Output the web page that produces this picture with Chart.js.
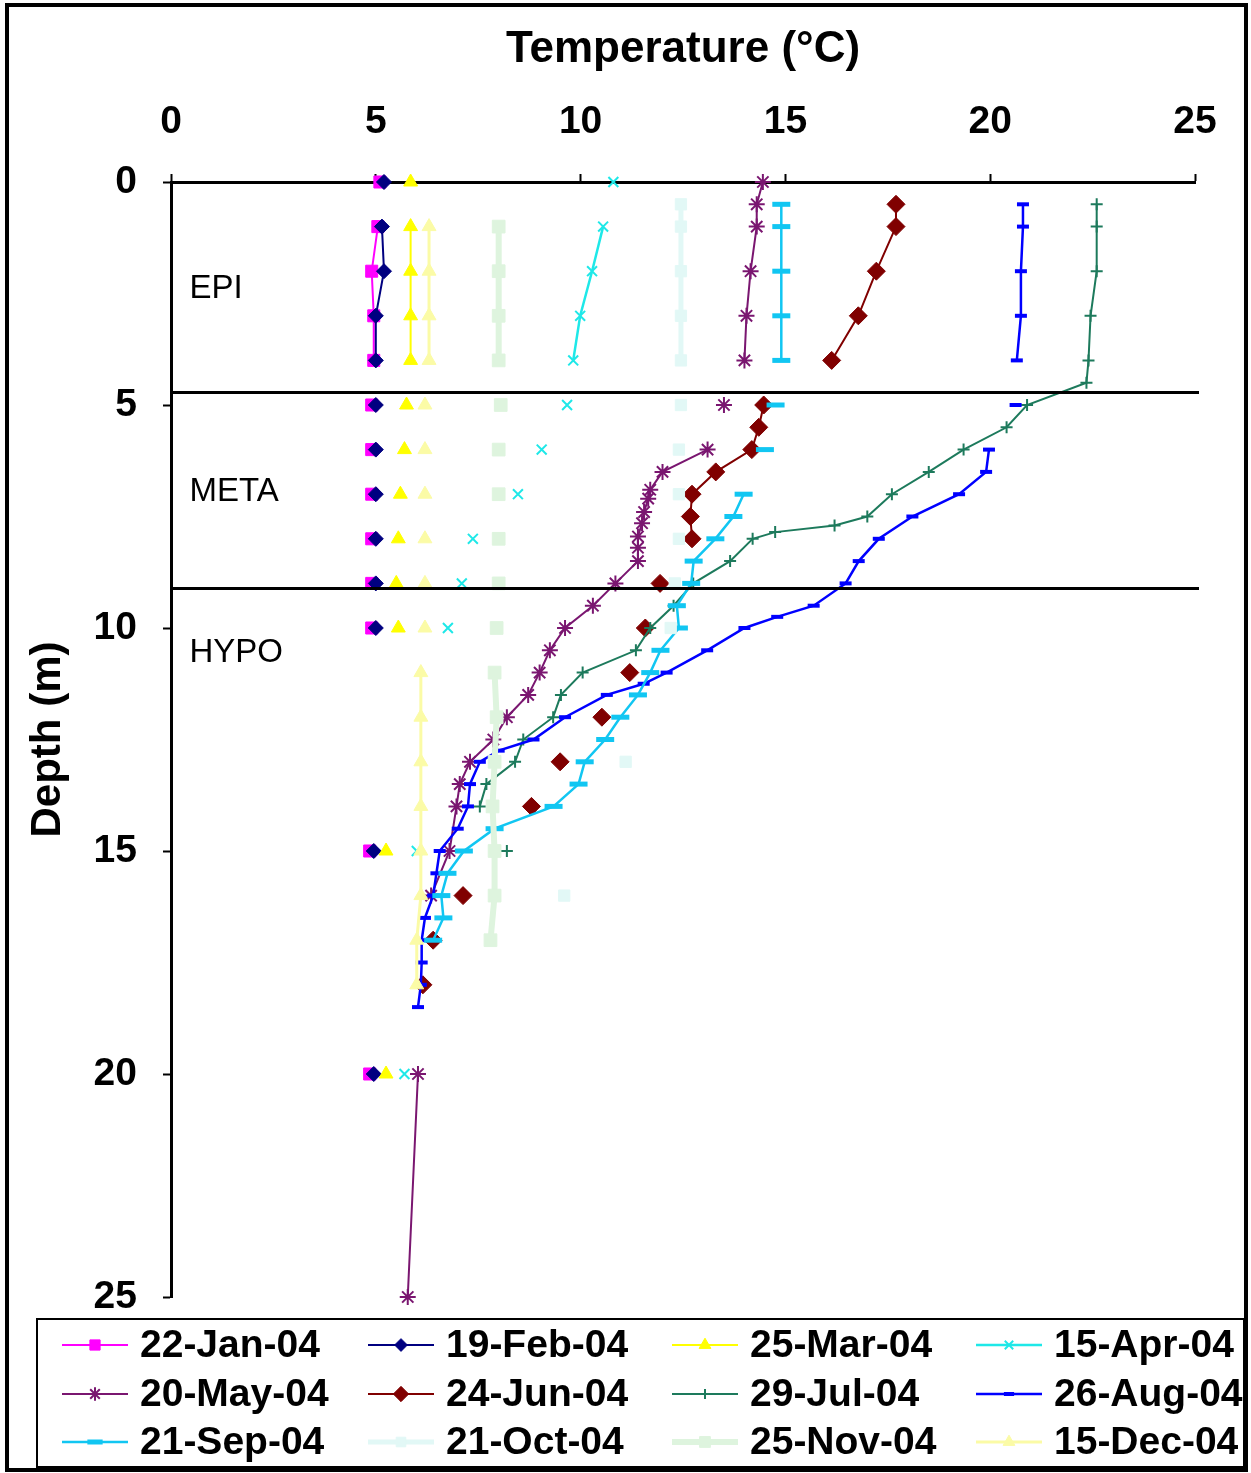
<!DOCTYPE html>
<html>
<head>
<meta charset="utf-8">
<script src="https://cdn.jsdelivr.net/npm/chart.js@4.4.1/dist/chart.umd.min.js"></script>
<style>
  html, body { margin: 0; padding: 0; background: #fff; }
  canvas { display: block; }
</style>
</head>
<body>
<canvas id="profile" width="1251" height="1473"></canvas>
<script>
// Sampling dates (one temperature profile each)
const seriesLabels = ['22-Jan-04', '19-Feb-04', '25-Mar-04', '15-Apr-04',
                      '20-May-04', '24-Jun-04', '29-Jul-04', '26-Aug-04',
                      '21-Sep-04', '21-Oct-04', '25-Nov-04', '15-Dec-04'];

// Depth (m) rows for the winter / spring profiles; null temperature = no reading
const winterDepth = [0, 0.5, 1, 2, 3, 4, 4.5, 5, 5.5, 6, 6.5, 7, 7.5, 8, 8.5, 9, 9.5, 10, 12, 15, 17, 20];
const janTemp = [5.1, null, 5.05, 4.9, 4.95, 4.95, null, 4.9, null, 4.9, null, 4.9, null, 4.9, null, 4.9, null, 4.9, null, 4.85, null, 4.85];
const febTemp = [5.2, null, 5.15, 5.2, 5.0, 5.0, null, 5.0, null, 5.0, null, 5.0, null, 5.0, null, 5.0, null, 5.0, null, 4.95, null, 4.95];
const marTemp = [5.85, null, 5.85, 5.85, 5.85, 5.85, null, 5.75, null, 5.7, null, 5.6, null, 5.55, null, 5.5, null, 5.55, null, 5.25, null, 5.25];
const aprTemp = [10.8, null, 10.55, 10.28, 9.99, 9.82, null, 9.67, null, 9.05, null, 8.47, null, 7.37, null, 7.1, null, 6.76, null, 6.0, null, 5.7];

const mayDepth = [0, 0.5, 1, 2, 3, 4, 4.5, 5, 5.5, 6, 6.5, 6.9, 7.1, 7.4, 7.65, 7.95, 8.2, 8.5, 9, 9.5, 10, 10.5, 11, 11.5, 12, 12.5, 13, 13.5, 14, 15, 16, 18, 20, 25];
const mayTemp = [14.45, 14.3, 14.3, 14.15, 14.05, 14.0, null, 13.5, null, 13.1, 12.0, 11.7, 11.65, 11.55, 11.5, 11.4, 11.4, 11.4, 10.85, 10.3, 9.62, 9.25, 9.0, 8.72, 8.2, 7.87, 7.3, 7.05, 6.97, 6.8, 6.35, null, 6.03, 5.78];

const junDepth = [0.5, 1, 2, 3, 4, 4.5, 5, 5.5, 6, 6.5, 7, 7.5, 8, 8.5, 9, 9.5, 10, 10.5, 11, 11.5, 12, 12.5, 13, 13.5, 14, 15, 16, 16.5, 17, 17.5, 18];
const junTemp = [17.7, 17.7, 17.22, 16.78, 16.13, null, 14.47, 14.35, 14.18, 13.3, 12.72, 12.68, 12.72, null, 11.94, null, 11.58, null, 11.2, null, 10.52, null, 9.5, null, 8.8, null, 7.13, null, 6.4, null, 6.15];

const julDepth = [0.5, 1, 2, 3, 4, 4.5, 5, 5.5, 6, 6.5, 7, 7.5, 7.7, 7.85, 8, 8.5, 9, 9.5, 10, 10.5, 11, 11.5, 12, 12.5, 13, 13.5, 14, 14.5, 15];
const julTemp = [22.6, 22.6, 22.6, 22.45, 22.4, 22.35, 20.9, 20.4, 19.35, 18.5, 17.6, 17.0, 16.2, 14.75, 14.2, 13.65, 12.75, 12.27, 11.7, 11.35, 10.05, 9.52, 9.33, 8.6, 8.4, 7.7, 7.54, null, 8.2];

const augDepth = [0.5, 1, 2, 3, 4, 4.5, 5, 5.5, 6, 6.5, 7, 7.5, 8, 8.5, 9, 9.5, 9.75, 10, 10.5, 11, 11.25, 11.5, 12, 12.5, 12.75, 13, 13.5, 14, 14.5, 15, 15.5, 16, 16.5, 17, 17.5, 18, 18.5];
const augTemp = [20.8, 20.8, 20.75, 20.75, 20.65, null, 20.62, null, 19.97, 19.9, 19.24, 18.1, 17.28, 16.79, 16.47, 15.69, 14.8, 14.0, 13.09, 12.1, 11.54, 10.64, 9.62, 8.85, 8.0, 7.54, 7.3, 7.25, 7.0, 6.56, 6.48, 6.4, 6.2, 6.12, 6.12, 6.1, 6.03];

const sepDepth = [0.5, 1, 2, 3, 4, 4.5, 5, 5.5, 6, 6.5, 7, 7.5, 8, 8.5, 9, 9.5, 10, 10.5, 11, 11.5, 12, 12.5, 13, 13.5, 14, 14.5, 15, 15.5, 16, 16.5, 17];
const sepTemp = [14.9, 14.9, 14.9, 14.9, 14.9, null, 14.76, null, 14.5, null, 13.98, 13.73, 13.29, 12.76, 12.7, 12.35, 12.4, 11.95, 11.7, 11.4, 10.97, 10.6, 10.1, 9.95, 9.34, 7.9, 7.15, 6.75, 6.6, 6.65, 6.4];

const octDepth = [0.5, 1, 2, 3, 4, 4.5, 5, 5.5, 6, 6.5, 7, 7.5, 8, 8.5, 9, 9.5, 10, 11.5, 13, 14.5, 16];
const octTemp = [12.45, 12.45, 12.45, 12.45, 12.45, null, 12.45, null, 12.4, null, 12.4, null, 12.4, null, 12.3, null, 12.2, null, 11.1, null, 9.6];

const novDepth = [1, 2, 3, 4, 4.5, 5, 5.5, 6, 6.5, 7, 7.5, 8, 8.5, 9, 9.5, 10, 10.5, 11, 12, 13, 14, 15, 16, 17];
const novTemp = [8.0, 8.0, 8.0, 8.0, null, 8.05, null, 8.0, null, 8.0, null, 8.0, null, 8.0, null, 7.95, null, 7.9, 7.95, 7.9, 7.85, 7.9, 7.9, 7.8];

const decDepth = [1, 2, 3, 4, 4.5, 5, 5.5, 6, 6.5, 7, 7.5, 8, 8.5, 9, 9.5, 10, 10.5, 11, 12, 13, 14, 15, 16, 17, 18];
const decTemp = [6.3, 6.3, 6.3, 6.3, null, 6.2, null, 6.2, null, 6.2, null, 6.2, null, 6.2, null, 6.2, null, 6.1, 6.1, 6.1, 6.1, 6.1, 6.1, 6.0, 6.0];

// Thermal layer boundaries (m) and their names
const layerBounds = [4.7, 9.1];
const layerNames = ['EPI', 'META', 'HYPO'];
const layerLabelDepth = [2.4, 6.95, 10.55];

// Axis tick values
const tempTicks = [0, 5, 10, 15, 20, 25];
const depthTicks = [0, 5, 10, 15, 20, 25];

const profiles = [
  [winterDepth, janTemp], [winterDepth, febTemp], [winterDepth, marTemp], [winterDepth, aprTemp],
  [mayDepth, mayTemp], [junDepth, junTemp], [julDepth, julTemp], [augDepth, augTemp],
  [sepDepth, sepTemp], [octDepth, octTemp], [novDepth, novTemp], [decDepth, decTemp]
];

const styles = [
  { color: '#ff00ff', point: 'rect',     radius: 8.5, pbw: 1, lw: 2 },
  { color: '#000080', point: 'rectRot',  radius: 7.5, pbw: 1, lw: 2 },
  { color: '#ffff00', point: 'triangle', radius: 8,   pbw: 1, lw: 2 },
  { color: '#1ee8e8', point: 'crossRot', radius: 7,   pbw: 2, lw: 2.5 },
  { color: '#7a1670', point: 'star',     radius: 8,   pbw: 2, lw: 2 },
  { color: '#800000', point: 'rectRot',  radius: 9,   pbw: 1, lw: 2 },
  { color: '#1d7a5c', point: 'cross',    radius: 6,   pbw: 2, lw: 2 },
  { color: '#0000ff', point: 'line',     radius: 6,   pbw: 4, lw: 2.5 },
  { color: '#11c6f2', point: 'line',     radius: 9,   pbw: 5, lw: 2.5 },
  { color: '#e2f8f6', point: 'rect',     radius: 8,   pbw: 1, lw: 5 },
  { color: '#def4de', point: 'rect',     radius: 9,   pbw: 1, lw: 6 },
  { color: '#fbfba6', point: 'triangle', radius: 8,   pbw: 1, lw: 3 }
];

const datasets = profiles.map(([depth, temp], i) => ({
  label: seriesLabels[i],
  data: depth.map((d, k) => ({ x: temp[k], y: d })),
  borderColor: styles[i].color,
  backgroundColor: styles[i].color,
  pointBorderColor: styles[i].color,
  pointBackgroundColor: styles[i].color,
  pointStyle: styles[i].point,
  pointRadius: styles[i].radius,
  pointBorderWidth: styles[i].pbw,
  borderWidth: styles[i].lw,
  spanGaps: false,
  clip: false,
  order: profiles.length - i
}));

const FONT = "'Liberation Sans', Arial, sans-serif";

// Page background and outer frame
const framePlugin = {
  id: 'frame',
  beforeDraw(chart) {
    const ctx = chart.ctx;
    ctx.save();
    ctx.fillStyle = '#ffffff';
    ctx.fillRect(0, 0, chart.width, chart.height);
    ctx.strokeStyle = '#000';
    ctx.lineWidth = 4;
    ctx.strokeRect(7, 5, chart.width - 12, chart.height - 8);
    ctx.restore();
  }
};

// Layer boundary lines and layer names
const layerPlugin = {
  id: 'layers',
  afterDatasetsDraw(chart) {
    const { ctx, chartArea, scales } = chart;
    ctx.save();
    ctx.strokeStyle = '#000';
    ctx.lineWidth = 3;
    layerBounds.forEach(b => {
      const y = Math.round(scales.y.getPixelForValue(b)) + 0.5;
      ctx.beginPath();
      ctx.moveTo(chartArea.left, y);
      ctx.lineTo(chartArea.right + 4, y);
      ctx.stroke();
    });
    ctx.fillStyle = '#000';
    ctx.font = '33px ' + FONT;
    ctx.textAlign = 'left';
    ctx.textBaseline = 'middle';
    layerNames.forEach((name, i) => {
      ctx.fillText(name, scales.x.getPixelForValue(0.45), scales.y.getPixelForValue(layerLabelDepth[i]));
    });
    ctx.restore();
  }
};

// Four-column legend in a box under the plot
const legendPlugin = {
  id: 'boxLegend',
  afterDraw(chart) {
    const ctx = chart.ctx;
    const colX = [62, 368, 672, 976];
    const rowY = [1345, 1394, 1442];
    ctx.save();
    ctx.strokeStyle = '#000';
    ctx.lineWidth = 2;
    ctx.strokeRect(37, 1319, 1207, 148);
    chart.data.datasets.forEach((ds, i) => {
      const x0 = colX[i % 4];
      const y = rowY[Math.floor(i / 4)];
      ctx.strokeStyle = ds.borderColor;
      ctx.fillStyle = ds.backgroundColor;
      ctx.lineWidth = ds.borderWidth;
      ctx.beginPath();
      ctx.moveTo(x0, y);
      ctx.lineTo(x0 + 66, y);
      ctx.stroke();
      ctx.lineWidth = ds.pointBorderWidth;
      const opts = { pointStyle: ds.pointStyle, radius: ds.pointRadius * 0.85, borderWidth: ds.pointBorderWidth, rotation: 0 };
      if (Chart.helpers && Chart.helpers.drawPoint) {
        Chart.helpers.drawPoint(ctx, opts, x0 + 33, y);
      } else {
        ctx.beginPath();
        ctx.arc(x0 + 33, y, 5, 0, Math.PI * 2);
        ctx.fill();
      }
      ctx.fillStyle = '#000';
      ctx.font = 'bold 39px ' + FONT;
      ctx.textAlign = 'left';
      ctx.textBaseline = 'middle';
      ctx.fillText(ds.label, x0 + 78, y + 1);
    });
    ctx.restore();
  }
};

new Chart(document.getElementById('profile'), {
  type: 'line',
  data: { datasets },
  plugins: [framePlugin, layerPlugin, legendPlugin],
  options: {
    indexAxis: 'y',
    responsive: false,
    animation: false,
    devicePixelRatio: 1,
    layout: { padding: { left: 10, top: 10, right: 56, bottom: 176 } },
    plugins: { legend: { display: false }, tooltip: { enabled: false } },
    scales: {
      x: {
        type: 'linear',
        position: 'top',
        min: 0, max: 25,
        afterBuildTicks(scale) { scale.ticks = tempTicks.map(v => ({ value: v })); },
        afterFit(scale) { scale.height = 172; },
        grid: { display: true, drawOnChartArea: false, drawTicks: true, tickLength: 8, tickWidth: 2, color: '#000' },
        border: { display: true, color: '#000', width: 3 },
        ticks: { color: '#000', padding: 28, font: { family: FONT, size: 39, weight: 'bold' }, maxRotation: 0 },
        title: { display: true, text: 'Temperature (°C)', color: '#000', padding: { top: 13, bottom: 0 },
                 font: { family: FONT, size: 44, weight: 'bold' } }
      },
      y: {
        type: 'linear',
        position: 'left',
        reverse: true,
        min: 0, max: 25,
        afterBuildTicks(scale) { scale.ticks = depthTicks.map(v => ({ value: v })); },
        afterFit(scale) { scale.width = 161; },
        grid: { display: true, drawOnChartArea: false, drawTicks: true, tickLength: 8, tickWidth: 2, color: '#000' },
        border: { display: true, color: '#000', width: 3 },
        ticks: { color: '#000', padding: 26, font: { family: FONT, size: 39, weight: 'bold' } },
        title: { display: true, text: 'Depth (m)', color: '#000', padding: { top: 13, bottom: 0 },
                 font: { family: FONT, size: 42, weight: 'bold' } }
      }
    }
  }
});
</script>
</body>
</html>
